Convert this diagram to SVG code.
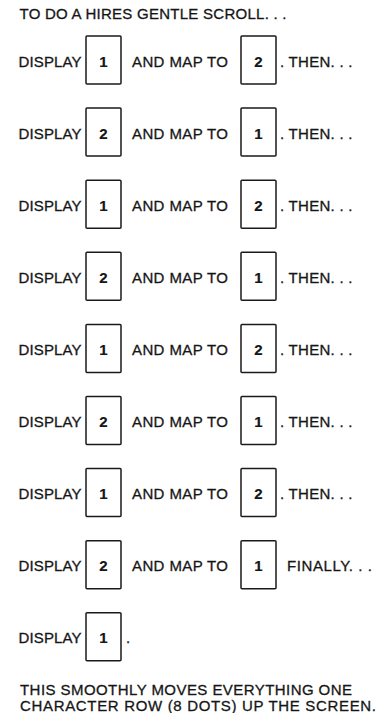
<svg xmlns="http://www.w3.org/2000/svg" width="379" height="713" viewBox="0 0 379 713">
<style>
text{font-family:"Liberation Sans",Arial,sans-serif;font-size:15px;fill:#161616;stroke:#161616;stroke-width:0.3}
.n{font-weight:bold;text-anchor:middle;stroke-width:0.2}
.box{fill:#fff;stroke:#1a1a1a;stroke-width:1.5}
</style>
<rect width="379" height="713" fill="#fff"/>
<text id="title" x="19.5" y="18.5" textLength="267" lengthAdjust="spacing">TO DO A HIRES GENTLE SCROLL. . .</text>

<g id="row1" transform="translate(0,36)">
<text x="18.5" y="30.5" textLength="63" lengthAdjust="spacing">DISPLAY</text>
<g id="r1-display"><rect class="box" x="86" y="0" width="35" height="48" rx="1"/><text class="n" x="103.5" y="30.5">1</text></g>
<text x="132" y="30.5" textLength="96" lengthAdjust="spacing">AND MAP TO</text>
<g id="r1-map"><rect class="box" x="241" y="0" width="35" height="48" rx="1"/><text class="n" x="258.5" y="30.5">2</text></g>
<text x="280" y="30.5" textLength="72.5" lengthAdjust="spacing">. THEN. . .</text>
</g>

<g id="row2" transform="translate(0,108.1)">
<text x="18.5" y="30.5" textLength="63" lengthAdjust="spacing">DISPLAY</text>
<g id="r2-display"><rect class="box" x="86" y="0" width="35" height="48" rx="1"/><text class="n" x="103.5" y="30.5">2</text></g>
<text x="132" y="30.5" textLength="96" lengthAdjust="spacing">AND MAP TO</text>
<g id="r2-map"><rect class="box" x="241" y="0" width="35" height="48" rx="1"/><text class="n" x="258.5" y="30.5">1</text></g>
<text x="280" y="30.5" textLength="72.5" lengthAdjust="spacing">. THEN. . .</text>
</g>

<g id="row3" transform="translate(0,180.2)">
<text x="18.5" y="30.5" textLength="63" lengthAdjust="spacing">DISPLAY</text>
<g id="r3-display"><rect class="box" x="86" y="0" width="35" height="48" rx="1"/><text class="n" x="103.5" y="30.5">1</text></g>
<text x="132" y="30.5" textLength="96" lengthAdjust="spacing">AND MAP TO</text>
<g id="r3-map"><rect class="box" x="241" y="0" width="35" height="48" rx="1"/><text class="n" x="258.5" y="30.5">2</text></g>
<text x="280" y="30.5" textLength="72.5" lengthAdjust="spacing">. THEN. . .</text>
</g>

<g id="row4" transform="translate(0,252.3)">
<text x="18.5" y="30.5" textLength="63" lengthAdjust="spacing">DISPLAY</text>
<g id="r4-display"><rect class="box" x="86" y="0" width="35" height="48" rx="1"/><text class="n" x="103.5" y="30.5">2</text></g>
<text x="132" y="30.5" textLength="96" lengthAdjust="spacing">AND MAP TO</text>
<g id="r4-map"><rect class="box" x="241" y="0" width="35" height="48" rx="1"/><text class="n" x="258.5" y="30.5">1</text></g>
<text x="280" y="30.5" textLength="72.5" lengthAdjust="spacing">. THEN. . .</text>
</g>

<g id="row5" transform="translate(0,324.4)">
<text x="18.5" y="30.5" textLength="63" lengthAdjust="spacing">DISPLAY</text>
<g id="r5-display"><rect class="box" x="86" y="0" width="35" height="48" rx="1"/><text class="n" x="103.5" y="30.5">1</text></g>
<text x="132" y="30.5" textLength="96" lengthAdjust="spacing">AND MAP TO</text>
<g id="r5-map"><rect class="box" x="241" y="0" width="35" height="48" rx="1"/><text class="n" x="258.5" y="30.5">2</text></g>
<text x="280" y="30.5" textLength="72.5" lengthAdjust="spacing">. THEN. . .</text>
</g>

<g id="row6" transform="translate(0,396.5)">
<text x="18.5" y="30.5" textLength="63" lengthAdjust="spacing">DISPLAY</text>
<g id="r6-display"><rect class="box" x="86" y="0" width="35" height="48" rx="1"/><text class="n" x="103.5" y="30.5">2</text></g>
<text x="132" y="30.5" textLength="96" lengthAdjust="spacing">AND MAP TO</text>
<g id="r6-map"><rect class="box" x="241" y="0" width="35" height="48" rx="1"/><text class="n" x="258.5" y="30.5">1</text></g>
<text x="280" y="30.5" textLength="72.5" lengthAdjust="spacing">. THEN. . .</text>
</g>

<g id="row7" transform="translate(0,468.6)">
<text x="18.5" y="30.5" textLength="63" lengthAdjust="spacing">DISPLAY</text>
<g id="r7-display"><rect class="box" x="86" y="0" width="35" height="48" rx="1"/><text class="n" x="103.5" y="30.5">1</text></g>
<text x="132" y="30.5" textLength="96" lengthAdjust="spacing">AND MAP TO</text>
<g id="r7-map"><rect class="box" x="241" y="0" width="35" height="48" rx="1"/><text class="n" x="258.5" y="30.5">2</text></g>
<text x="280" y="30.5" textLength="72.5" lengthAdjust="spacing">. THEN. . .</text>
</g>

<g id="row8" transform="translate(0,540.7)">
<text x="18.5" y="30.5" textLength="63" lengthAdjust="spacing">DISPLAY</text>
<g id="r8-display"><rect class="box" x="86" y="0" width="35" height="48" rx="1"/><text class="n" x="103.5" y="30.5">2</text></g>
<text x="132" y="30.5" textLength="96" lengthAdjust="spacing">AND MAP TO</text>
<g id="r8-map"><rect class="box" x="241" y="0" width="35" height="48" rx="1"/><text class="n" x="258.5" y="30.5">1</text></g>
<text x="287" y="30.5" textLength="85" lengthAdjust="spacing">FINALLY. . .</text>
</g>

<g id="row9" transform="translate(0,612.8)">
<text x="18.5" y="30.5" textLength="63" lengthAdjust="spacing">DISPLAY</text>
<g id="r9-display"><rect class="box" x="86" y="0" width="35" height="48" rx="1"/><text class="n" x="103.5" y="30.5">1</text></g>
<text x="126" y="30.5">.</text>
</g>

<text id="note1" x="20" y="695" textLength="332" lengthAdjust="spacing">THIS SMOOTHLY MOVES EVERYTHING ONE</text>
<text id="note2" x="20" y="710.5" textLength="356" lengthAdjust="spacing">CHARACTER ROW (8 DOTS) UP THE SCREEN.</text>
</svg>
